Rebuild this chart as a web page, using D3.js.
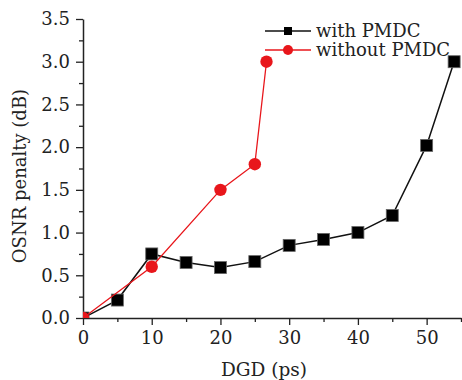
<!DOCTYPE html>
<html>
<head>
<meta charset="utf-8">
<script src="https://cdn.jsdelivr.net/npm/d3@7"></script>
<style>
  body { margin: 0; background: #fff; }
  text { font-family: "DejaVu Serif", serif; fill: #222; }
</style>
</head>
<body>
<div id="chart"></div>
<script>
// data
var dgdWith = [0, 5, 10, 15, 20, 25, 30, 35, 40, 45, 50, 54];
var penaltyWith = [0, 0.21, 0.75, 0.65, 0.59, 0.66, 0.85, 0.92, 1.0, 1.2, 2.02, 3.0];
var dgdWithout = [0, 10, 20, 25, 26.7];
var penaltyWithout = [0, 0.6, 1.5, 1.8, 3.0];
var seriesNames = ['with PMDC', 'without PMDC'];
var xTicks = [0, 10, 20, 30, 40, 50];
var yTicks = [0, 0.5, 1, 1.5, 2, 2.5, 3, 3.5];

var width = 462, height = 380;
var mLeft = 83, mRight = 461, mTop = 19, mBottom = 318;

var svg = d3.select('#chart').append('svg')
  .attr('width', width)
  .attr('height', height);

var x = d3.scaleLinear().domain([0, 55]).range([mLeft, mRight]);
var y = d3.scaleLinear().domain([0, 3.5]).range([mBottom, mTop]);

// minor ticks first
svg.append('g')
  .attr('transform', 'translate(0,' + mBottom + ')')
  .call(d3.axisBottom(x).tickValues(d3.range(5, 56, 10)).tickSize(4).tickFormat(''))
  .call(g => g.select('.domain').remove());
svg.append('g')
  .attr('transform', 'translate(' + mLeft + ',0)')
  .call(d3.axisLeft(y).tickValues(d3.range(0.25, 3.5, 0.5)).tickSize(4).tickFormat(''))
  .call(g => g.select('.domain').remove());

svg.append('g')
  .attr('transform', 'translate(0,' + mBottom + ')')
  .call(d3.axisBottom(x).tickValues(xTicks).tickSize(7).tickSizeOuter(0).tickPadding(6).tickFormat(d3.format('d')));
svg.append('g')
  .attr('transform', 'translate(' + mLeft + ',0)')
  .call(d3.axisLeft(y).tickValues(yTicks).tickSize(7).tickSizeOuter(0).tickPadding(6).tickFormat(d3.format('.1f')));

svg.selectAll('.tick line').attr('stroke', '#222').attr('stroke-width', 1.3);
svg.selectAll('.domain').attr('stroke', '#222').attr('stroke-width', 1.5);
svg.selectAll('.tick text').style('font-size', '18px').style('font-family', '"DejaVu Serif", serif').attr('fill', '#222');

svg.append('text')
  .attr('x', 264)
  .attr('y', 376)
  .attr('text-anchor', 'middle')
  .style('font-size', '18.5px')
  .text('DGD (ps)');

svg.append('text')
  .attr('transform', 'translate(26,176) rotate(-90)')
  .attr('text-anchor', 'middle')
  .style('font-size', '18px')
  .text('OSNR penalty (dB)');

svg.append('clipPath').attr('id', 'plotclip')
  .append('rect').attr('x', mLeft).attr('y', 0).attr('width', mRight - mLeft + 10).attr('height', mBottom);

var line = d3.line().x(d => x(d[0])).y(d => y(d[1]));
var withData = dgdWith.map((d, i) => [d, penaltyWith[i]]);
var withoutData = dgdWithout.map((d, i) => [d, penaltyWithout[i]]);

var plot = svg.append('g').attr('clip-path', 'url(#plotclip)');

plot.append('path').datum(withData)
  .attr('d', line).attr('fill', 'none').attr('stroke', '#111').attr('stroke-width', 1.5);
plot.selectAll('rect.sq').data(withData).enter().append('rect')
  .attr('class', 'sq')
  .attr('x', d => x(d[0]) - 6).attr('y', d => y(d[1]) - 6)
  .attr('width', 12).attr('height', 12)
  .attr('fill', '#000').attr('stroke', '#666').attr('stroke-width', 0.8);

plot.append('path').datum(withoutData)
  .attr('d', line).attr('fill', 'none').attr('stroke', '#e8161b').attr('stroke-width', 1.3);
plot.selectAll('circle.ci').data(withoutData).enter().append('circle')
  .attr('class', 'ci')
  .attr('cx', d => x(d[0])).attr('cy', d => y(d[1]))
  .attr('r', 6.2)
  .attr('fill', '#e8161b');

// legend
var legend = svg.append('g');
var rows = [31, 50];
legend.append('line').attr('x1', 265).attr('x2', 311).attr('y1', rows[0]).attr('y2', rows[0])
  .attr('stroke', '#111').attr('stroke-width', 1.5);
legend.append('rect').attr('x', 284).attr('y', rows[0] - 4).attr('width', 8).attr('height', 8).attr('fill', '#000');
legend.append('line').attr('x1', 265).attr('x2', 311).attr('y1', rows[1]).attr('y2', rows[1])
  .attr('stroke', '#e8161b').attr('stroke-width', 1.3);
legend.append('circle').attr('cx', 288).attr('cy', rows[1]).attr('r', 5).attr('fill', '#e8161b');
legend.selectAll('text.lt').data(seriesNames).enter().append('text')
  .attr('class', 'lt')
  .attr('x', 316).attr('y', (d, i) => rows[i] + 6)
  .style('font-size', '18px')
  .text(d => d);
</script>
</body>
</html>
